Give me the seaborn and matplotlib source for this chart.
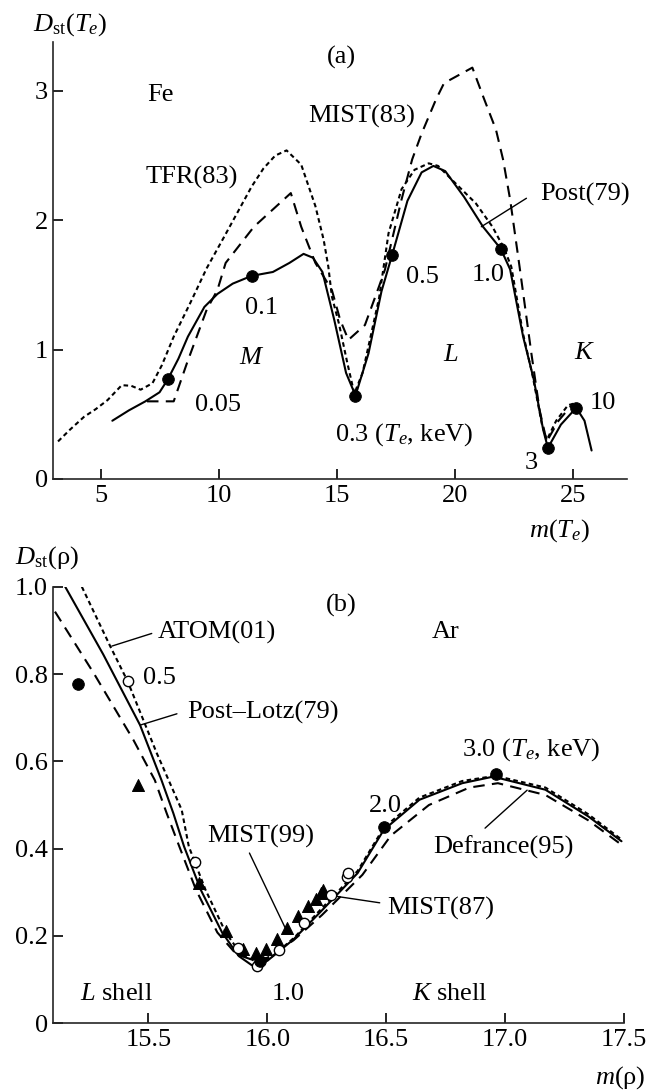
import matplotlib
matplotlib.use("Agg")
import matplotlib.pyplot as plt
import seaborn as sns

# ---------------- Panel (a): Fe ----------------
post79_x = [5.5, 6.2, 6.9, 7.5, 7.85, 8.3, 8.7, 9.4, 9.95, 10.6, 11.4, 12.3, 13.0, 13.6, 14.0, 14.4,
            14.9, 15.4, 15.8, 16.35, 16.9, 17.35, 18.0, 18.6, 19.1, 19.6, 20.4, 21.2, 21.95, 22.35,
            22.9, 23.35, 23.75, 23.95, 24.5, 25.15, 25.5, 25.8]
post79_y = [0.45, 0.53, 0.60, 0.67, 0.77, 0.93, 1.10, 1.33, 1.43, 1.51, 1.57, 1.60, 1.67, 1.74, 1.71, 1.60,
            1.23, 0.82, 0.645, 0.97, 1.45, 1.73, 2.15, 2.37, 2.42, 2.38, 2.18, 1.95, 1.78, 1.62,
            1.10, 0.77, 0.38, 0.24, 0.42, 0.55, 0.45, 0.22]

tfr83_x = [3.2, 3.7, 4.3, 4.8, 5.3, 5.9, 6.3, 6.7, 7.2, 7.6, 8.1, 8.8, 9.5, 10.2, 10.8, 11.4, 11.9,
           12.4, 12.88, 13.5, 14.1, 14.45, 14.65, 14.8, 15.1, 15.45, 15.75, 16.1, 16.5, 16.8, 17.2,
           17.75, 18.3, 18.9, 19.3, 19.9, 20.9, 21.6, 22.1, 22.4, 22.9, 23.3, 23.7, 23.9, 24.3,
           24.8, 25.1]
tfr83_y = [0.29, 0.38, 0.48, 0.54, 0.61, 0.725, 0.72, 0.69, 0.74, 0.88, 1.10, 1.36, 1.63, 1.86, 2.06,
           2.26, 2.40, 2.50, 2.54, 2.43, 2.11, 1.85, 1.64, 1.41, 1.20, 0.90, 0.66, 0.82, 1.15, 1.40,
           1.90, 2.24, 2.39, 2.44, 2.42, 2.31, 2.13, 1.95, 1.78, 1.64, 1.12, 0.80, 0.42, 0.30, 0.45,
           0.57, 0.585]

mist83_x = [6.97, 8.1, 8.66, 9.5, 9.95, 10.3, 11.5, 13.06, 13.5, 14.1, 14.8, 15.15, 15.5, 16.2, 16.8,
            17.05, 17.75, 18.2, 18.6, 19.2, 19.55, 20.75, 21.2, 21.75, 22.05, 22.35, 22.75, 23.25,
            23.6, 23.9, 24.4, 25.0]
mist83_y = [0.60, 0.60, 0.895, 1.31, 1.46, 1.67, 1.95, 2.21, 1.95, 1.67, 1.46, 1.23, 1.075, 1.19, 1.49,
            1.62, 2.16, 2.47, 2.67, 2.93, 3.06, 3.18, 2.96, 2.70, 2.47, 2.16, 1.64, 0.97,
            0.53, 0.29, 0.45, 0.58]

fe_pts_x = [7.85, 11.4, 15.8, 17.35, 21.95, 23.95, 25.15]
fe_pts_y = [0.77, 1.57, 0.645, 1.73, 1.78, 0.24, 0.55]

fe_xticks = [5, 10, 15, 20, 25]
fe_yticks = [0, 1, 2, 3]

# ---------------- Panel (b): Ar ----------------
postlotz_x = [15.15, 15.31, 15.465, 15.555, 15.605, 15.65, 15.72, 15.81, 15.88, 15.935, 16.0, 16.11,
              16.22, 16.38, 16.49, 16.64, 16.82, 16.95, 17.17, 17.35, 17.49]
postlotz_y = [1.0, 0.845, 0.683, 0.557, 0.481, 0.405, 0.306, 0.208, 0.154, 0.133, 0.143, 0.192,
              0.253, 0.344, 0.443, 0.512, 0.55, 0.565, 0.535, 0.474, 0.417]

atom01_x = [15.22, 15.34, 15.413, 15.535, 15.64, 15.67, 15.74, 15.825, 15.89, 15.95, 16.01, 16.115,
            16.22, 16.38, 16.49, 16.64, 16.82, 16.96, 17.17, 17.35, 17.49]
atom01_y = [1.0, 0.863, 0.783, 0.619, 0.489, 0.405, 0.306, 0.208, 0.158, 0.142, 0.148, 0.197,
            0.258, 0.349, 0.448, 0.517, 0.555, 0.567, 0.54, 0.479, 0.421]

defrance95_x = [15.107, 15.27, 15.437, 15.527, 15.577, 15.63, 15.70, 15.79, 15.87, 15.94, 16.0, 16.11,
                16.23, 16.40, 16.52, 16.68, 16.85, 16.97, 17.17, 17.35, 17.49]
defrance95_y = [0.943, 0.802, 0.649, 0.557, 0.481, 0.405, 0.306, 0.208, 0.158, 0.145, 0.150, 0.190,
                0.248, 0.340, 0.43, 0.50, 0.54, 0.55, 0.523, 0.465, 0.409]

ar_filled_x = [15.205, 15.97, 16.49, 16.96]
ar_filled_y = [0.777, 0.143, 0.449, 0.571]

mist87_x = [15.413, 15.695, 15.875, 15.955, 16.049, 16.155, 16.266, 16.337, 16.34]
mist87_y = [0.783, 0.369, 0.172, 0.132, 0.167, 0.229, 0.295, 0.335, 0.344]

mist99_x = [15.458, 15.712, 15.827, 15.898, 15.951, 15.996, 16.04, 16.084, 16.128, 16.173, 16.203,
            16.226, 16.234]
mist99_y = [0.546, 0.322, 0.211, 0.170, 0.162, 0.170, 0.192, 0.219, 0.246, 0.268, 0.284,
            0.299, 0.306]

ar_xticks = [15.5, 16.0, 16.5, 17.0, 17.5]
ar_xticklabels = ["15.5", "16.0", "16.5", "17.0", "17.5"]
ar_yticks = [0, 0.2, 0.4, 0.6, 0.8, 1.0]
ar_yticklabels = ["0", "0.2", "0.4", "0.6", "0.8", "1.0"]

# ---------------- Styling ----------------
sns.set_style("ticks")
plt.rcParams["font.family"] = ["Liberation Serif", "DejaVu Serif"]
plt.rcParams["mathtext.fontset"] = "custom"
plt.rcParams["mathtext.rm"] = "Liberation Serif"
plt.rcParams["mathtext.it"] = "Liberation Serif:italic"
plt.rcParams["mathtext.bf"] = "Liberation Serif:bold"

FS = 19
DOT = (0, (2.2, 1.6))
DASH = (0, (5.5, 3.5))
LW = 1.5

fig = plt.figure(figsize=(6.63, 10.9), dpi=100)
ax1 = fig.add_axes([0.0804, 0.5606, 0.9457 - 0.0804, 0.9617 - 0.5606])
ax2 = fig.add_axes([0.0804, 0.0612, 0.941 - 0.0804, 0.4617 - 0.0612])


def line(ax, x, y, ls):
    sns.lineplot(x=x, y=y, ax=ax, sort=False, estimator=None, color="black",
                 linewidth=LW, linestyle=ls)


# Panel (a)
line(ax1, tfr83_x, tfr83_y, DOT)
line(ax1, mist83_x, mist83_y, DASH)
line(ax1, post79_x, post79_y, "-")
sns.scatterplot(x=fe_pts_x, y=fe_pts_y, ax=ax1, color="black", s=70, edgecolor="black", zorder=5)

ax1.set_xlim(3, 27.3)
ax1.set_ylim(0, 3.38)
ax1.set_xticks(fe_xticks)
ax1.set_yticks(fe_yticks)

t = dict(fontsize=FS, color="black")
ax1.text(15.22, 3.256, "(a)", ha="center", va="center", **t)
ax1.text(7.53, 2.97, "Fe", ha="center", va="center", **t)
ax1.text(6.89, 2.33, "TFR(83)", ha="left", va="center", **t)
ax1.text(13.81, 2.80, "MIST(83)", ha="left", va="center", **t)
ax1.text(23.62, 2.196, "Post(79)", ha="left", va="center", **t)
ax1.text(11.14, 1.32, "0.1", ha="left", va="center", **t)
ax1.text(9.02, 0.572, "0.05", ha="left", va="center", **t)
ax1.text(11.39, 0.936, "$M$", ha="center", va="center", **t)
ax1.text(17.93, 1.56, "0.5", ha="left", va="center", **t)
ax1.text(20.73, 1.58, "1.0", ha="left", va="center", **t)
ax1.text(19.85, 0.96, "$L$", ha="center", va="center", **t)
ax1.text(25.52, 0.975, "$K$", ha="center", va="center", **t)
ax1.text(25.73, 0.588, "10", ha="left", va="center", **t)
ax1.text(23.25, 0.124, "3", ha="center", va="center", **t)
ax1.text(14.92, 0.34, "0.3 ($T_e$, keV)", ha="left", va="center", **t)
ax1.text(24.45, -0.40, "$m$($T_e$)", ha="center", va="center", clip_on=False, **t)
ax1.text(3.71, 3.51, "$D$$_{\\rm st}$($T_e$)", ha="center", va="center", clip_on=False, **t)
ax1.annotate("", xy=(21.13, 1.95), xytext=(23.04, 2.17),
             arrowprops=dict(arrowstyle="-", color="black", lw=1.0, shrinkA=0, shrinkB=0))

# Panel (b)
line(ax2, atom01_x, atom01_y, DOT)
line(ax2, defrance95_x, defrance95_y, DASH)
line(ax2, postlotz_x, postlotz_y, "-")
sns.scatterplot(x=mist99_x, y=mist99_y, ax=ax2, color="black", marker="^", s=75,
                edgecolor="black", zorder=5)
sns.scatterplot(x=mist87_x, y=mist87_y, ax=ax2, color="white", marker="o", s=55,
                edgecolor="black", linewidth=1.0, zorder=6)
sns.scatterplot(x=ar_filled_x, y=ar_filled_y, ax=ax2, color="black", marker="o", s=70,
                edgecolor="black", zorder=7)

ax2.set_xlim(15.1, 17.5)
ax2.set_ylim(0, 1.0)
ax2.set_xticks(ar_xticks)
ax2.set_xticklabels(ar_xticklabels)
ax2.set_yticks(ar_yticks)
ax2.set_yticklabels(ar_yticklabels)

ax2.text(16.311, 0.958, "(b)", ha="center", va="center", **t)
ax2.text(15.541, 0.896, "ATOM(01)", ha="left", va="center", **t)
ax2.text(16.749, 0.896, "Ar", ha="center", va="center", **t)
ax2.text(15.478, 0.791, "0.5", ha="left", va="center", **t)
ax2.text(15.663, 0.711, "Post\u2013Lotz(79)", ha="left", va="center", **t)
ax2.text(16.82, 0.626, "3.0 ($T_e$, keV)", ha="left", va="center", **t)
ax2.text(16.429, 0.498, "2.0", ha="left", va="center", **t)
ax2.text(16.70, 0.404, "Defrance(95)", ha="left", va="center", **t)
ax2.text(15.747, 0.427, "MIST(99)", ha="left", va="center", **t)
ax2.text(16.503, 0.264, "MIST(87)", ha="left", va="center", **t)
ax2.text(15.212, 0.067, "$L$ shell", ha="left", va="center", **t)
ax2.text(16.02, 0.067, "1.0", ha="left", va="center", **t)
ax2.text(16.61, 0.067, "$K$ shell", ha="left", va="center", **t)
ax2.text(17.59, -0.125, "$m$(\u03c1)", ha="right", va="center", clip_on=False, **t)
ax2.text(14.94, 1.066, "$D$$_{\\rm st}$(\u03c1)", ha="left", va="center", clip_on=False, **t)

lead = dict(arrowstyle="-", color="black", lw=1.0, shrinkA=0, shrinkB=0)
ax2.annotate("", xy=(15.346, 0.864), xytext=(15.514, 0.893), arrowprops=lead)
ax2.annotate("", xy=(15.465, 0.683), xytext=(15.62, 0.709), arrowprops=lead)
ax2.annotate("", xy=(16.075, 0.219), xytext=(15.925, 0.39), arrowprops=lead)
ax2.annotate("", xy=(16.288, 0.291), xytext=(16.473, 0.276), arrowprops=lead)
ax2.annotate("", xy=(16.916, 0.447), xytext=(17.093, 0.534), arrowprops=lead)

for ax in (ax1, ax2):
    sns.despine(ax=ax)
    ax.spines["left"].set_linewidth(1.2)
    ax.spines["bottom"].set_linewidth(1.2)
    ax.tick_params(direction="in", length=7, width=1.2, labelsize=FS, pad=4, colors="black")
    ax.set_xlabel("")
    ax.set_ylabel("")
    for lab in ax.get_xticklabels() + ax.get_yticklabels():
        lab.set_fontsize(FS)

fig.savefig("out.png", dpi=100)
